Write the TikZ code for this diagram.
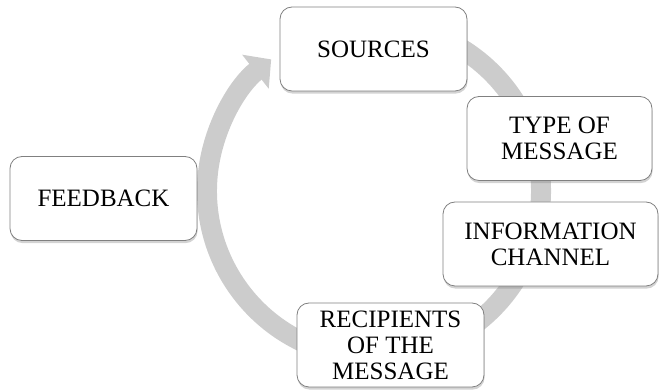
\documentclass[tikz,border=0pt]{standalone}
\usepackage{fontspec}
\setmainfont{Liberation Serif}
\usetikzlibrary{arrows.meta,shadows}

\begin{document}
\begin{tikzpicture}[x=1pt,y=1pt,
    box/.style={draw=black!50, line width=0.8pt, fill=white, rounded corners=12pt,
      minimum width=187pt, minimum height=84pt, inner sep=0pt, align=center,
      font=\fontsize{25}{26}\selectfont,
      drop shadow={shadow xshift=0.6pt, shadow yshift=-2.6pt, opacity=0.35}},
    band/.style={line width=20pt, draw=black!20, -{Triangle[length=20pt,width=42pt]}}]
        \useasboundingbox (0,0) rectangle (659,390);
        \coordinate (c) at (374,199); % middle of the cycle
        \draw[band] ([shift={(80:167)}]c) arc[start angle=80, end angle=-232, radius=167];
        \node[box] (sources) at (373.5,341) {SOURCES};
        \node[box, minimum width=185pt] (type) at (559.5,251.5) {TYPE OF\\MESSAGE};
        \node[box, minimum width=215pt] (channel) at (550.5,146) {INFORMATION\\CHANNEL};
        \node[box] (recipients) at (390.5,45) {RECIPIENTS\\OF THE\\MESSAGE};
        \node[box] (feedback) at (103.5,191.5) {FEEDBACK};
\end{tikzpicture}
\end{document}
